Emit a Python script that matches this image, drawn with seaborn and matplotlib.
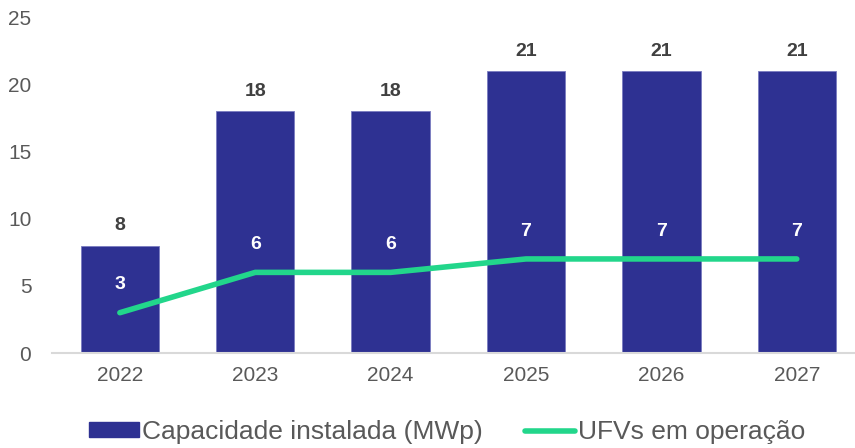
import numpy as np
import pandas as pd
import seaborn as sns
import matplotlib.pyplot as plt
from matplotlib.patches import Patch
from matplotlib.lines import Line2D

# dados
anos = ['2022', '2023', '2024', '2025', '2026', '2027']
capacidade = [8, 18, 18, 21, 21, 21]
ufvs = [3, 6, 6, 7, 7, 7]

cor_barra = '#2E3192'
cor_linha = '#22D68B'
cor_texto = '#595959'

sns.set_style('white')
plt.rcParams['font.family'] = ['Liberation Sans', 'DejaVu Sans']

df = pd.DataFrame({'Ano': anos, 'Capacidade': capacidade, 'UFVs': ufvs})

fig = plt.figure(figsize=(8.55, 4.48), dpi=100)
ax = fig.add_axes([0.061, 0.212, 0.939, 0.75])

sns.barplot(data=df, x='Ano', y='Capacidade', color=cor_barra, width=0.58,
            saturation=1, edgecolor='#7a7cc0', linewidth=0.6, ax=ax)
sns.lineplot(x=np.arange(len(anos)), y=df['UFVs'], color=cor_linha,
             linewidth=4, solid_capstyle='round', ax=ax)

# rótulos das barras
for i, v in enumerate(capacidade):
    ax.annotate(str(v), (i, v), xytext=(0, 8), textcoords='offset points',
                ha='center', va='bottom', fontsize=14, fontweight='bold',
                color='#404040')
# rótulos da linha
for i, v in enumerate(ufvs):
    ax.annotate(str(v), (i, v), xytext=(0, 20), textcoords='offset points',
                ha='center', va='center', fontsize=14, fontweight='bold',
                color='white')

ax.set_ylim(0, 25)
ax.set_xlim(-0.5, 5.43)
ax.set_yticks(range(0, 26, 5))
ax.set_xlabel('')
ax.set_ylabel('')
ax.tick_params(axis='both', labelsize=15, labelcolor=cor_texto, length=0)
ax.tick_params(axis='x', pad=9)
ax.tick_params(axis='y', pad=15)

for s in ['top', 'right', 'left']:
    ax.spines[s].set_visible(False)
ax.spines['bottom'].set_color('#d9d9d9')
ax.spines['bottom'].set_linewidth(1.5)

handles = [Patch(facecolor=cor_barra, edgecolor=cor_barra),
           Line2D([0], [0], color=cor_linha, linewidth=4, solid_capstyle='round')]
fig.legend(handles, ['Capacidade instalada (MWp)', 'UFVs em operação'],
           loc='center', bbox_to_anchor=(0.523, 0.035), ncol=2, frameon=False,
           fontsize=19, labelcolor=cor_texto, handlelength=1.9, handleheight=0.5,
           handletextpad=0.12, columnspacing=1.6)

plt.savefig('out.png', dpi=100)
plt.close()
